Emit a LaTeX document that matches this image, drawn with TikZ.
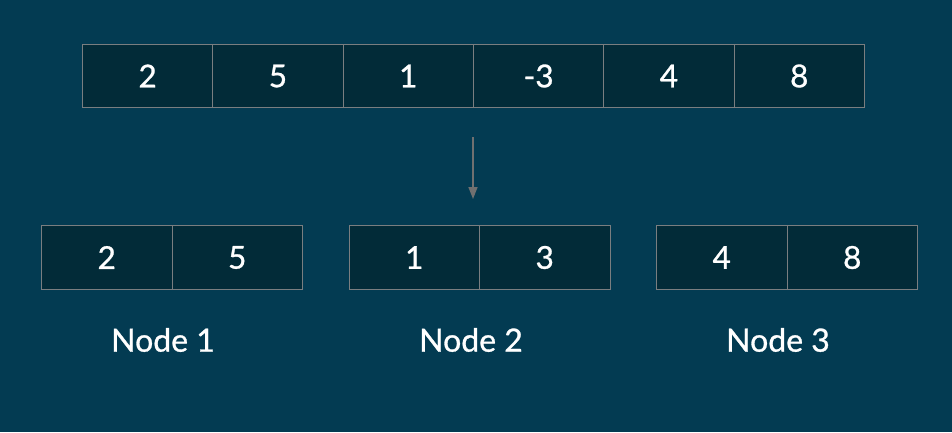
\documentclass[tikz,border=0pt]{standalone}
\usepackage{fontspec}
\setmainfont{Lato}
\newfontfamily\lbfont[FakeBold=0.9]{Lato}
\usetikzlibrary{arrows.meta}
\definecolor{bg}{RGB}{3,59,82}
\definecolor{cellfill}{RGB}{2,43,56}
\definecolor{cellline}{RGB}{122,126,128}
\definecolor{arrowc}{RGB}{112,112,112}
\tikzset{
  cell/.style={draw=cellline, line width=1pt, fill=cellfill, minimum height=63pt, inner sep=0pt, anchor=north west, text=white, font=\lbfont\fontsize{31.5}{36}\selectfont},
  lbl/.style={text=white, font=\lbfont\fontsize{32}{36}\selectfont, inner sep=0pt}
}
\begin{document}
\begin{tikzpicture}[x=1pt,y=-1pt]
\fill[bg] (0,0) rectangle (952,432);
\useasboundingbox (0,0) rectangle (952,432);
% top row
\node[cell, minimum width=130.3pt] (t1) at (82,44) {2};
\node[cell, minimum width=130.3pt] (t2) at (212.3,44) {5};
\node[cell, minimum width=130.3pt] (t3) at (342.6,44) {1};
\node[cell, minimum width=130.3pt] (t4) at (473,44) {-3};
\node[cell, minimum width=130.3pt] (t5) at (603.3,44) {4};
\node[cell, minimum width=130.3pt] (t6) at (733.6,44) {8};
% arrow
\coordinate (as) at (473,137);
\coordinate (ae) at (473,199);
\draw[arrowc, line width=1.5pt, -{Triangle[length=12pt,width=9pt]}] (as) -- (ae);
% node 1
\node[cell, minimum width=130.5pt, minimum height=64pt] (a1) at (41,225) {2};
\node[cell, minimum width=130.5pt, minimum height=64pt] (a2) at (171.5,225) {5};
% node 2
\node[cell, minimum width=130.5pt, minimum height=64pt] (b1) at (348.5,225) {1};
\node[cell, minimum width=130.5pt, minimum height=64pt] (b2) at (479,225) {3};
% node 3
\node[cell, minimum width=130.5pt, minimum height=64pt] (c1) at (656,225) {4};
\node[cell, minimum width=130.5pt, minimum height=64pt] (c2) at (786.5,225) {8};
% labels
\node[lbl] (l1) at (163,340) {Node 1};
\node[lbl] (l2) at (471,340) {Node 2};
\node[lbl] (l3) at (778,340) {Node 3};
\end{tikzpicture}
\end{document}
